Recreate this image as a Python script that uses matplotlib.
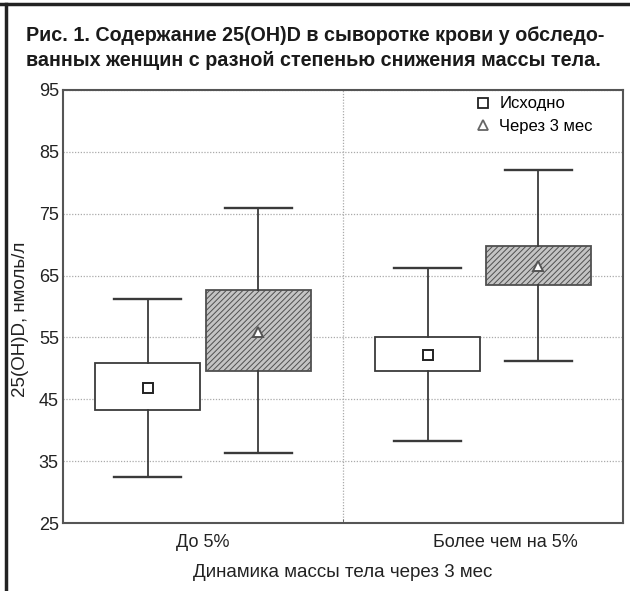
import matplotlib
matplotlib.use("Agg")
import matplotlib.pyplot as plt
from matplotlib.lines import Line2D

plt.rcParams['font.family'] = ['Liberation Sans', 'DejaVu Sans']
plt.rcParams['hatch.linewidth'] = 0.7

groups = ["До 5%", "Более чем на 5%"]
series = ["Исходно", "Через 3 мес"]

# mean, box low/high, whisker low/high
mean_base = [46.8, 52.2]
box_lo_base = [43.2, 49.6]
box_hi_base = [50.8, 55.0]
whis_lo_base = [32.4, 38.2]
whis_hi_base = [61.2, 66.3]

mean_3m = [55.9, 66.5]
box_lo_3m = [49.6, 63.5]
box_hi_3m = [62.6, 69.8]
whis_lo_3m = [36.3, 51.2]
whis_hi_3m = [76.0, 82.0]

yticks = [25, 35, 45, 55, 65, 75, 85, 95]

title = ("Рис. 1. Содержание 25(OH)D в сыворотке крови у обследо-\n"
         "ванных женщин с разной степенью снижения массы тела.")


def make_stats(mean, lo, hi, wlo, whi):
    return [dict(med=m, mean=m, q1=a, q3=b, whislo=c, whishi=d, fliers=[])
            for m, a, b, c, d in zip(mean, lo, hi, wlo, whi)]


fig = plt.figure(figsize=(6.3, 5.91), dpi=100)
ax = fig.add_axes([63/630, 1-523/591, 560/630, 433/591])

edge = '#3a3a3a'
off = 0.198
pos0 = [i - off for i in range(len(groups))]
pos1 = [i + off for i in range(len(groups))]

common = dict(widths=0.375, capwidths=0.24, patch_artist=True, showmeans=True,
              showfliers=False,
              whiskerprops=dict(color=edge, lw=1.3),
              capprops=dict(color=edge, lw=1.7),
              medianprops=dict(visible=False))

ax.bxp(make_stats(mean_base, box_lo_base, box_hi_base, whis_lo_base, whis_hi_base),
       positions=pos0,
       boxprops=dict(facecolor='white', edgecolor=edge, lw=1.3),
       meanprops=dict(marker='s', mfc='white', mec='#222', ms=7, mew=1.4),
       **common)
r = ax.bxp(make_stats(mean_3m, box_lo_3m, box_hi_3m, whis_lo_3m, whis_hi_3m),
           positions=pos1,
           boxprops=dict(facecolor='#c4c4c4', edgecolor='#505050', lw=1.3),
           meanprops=dict(marker='^', mfc='white', mec='#555555', ms=7, mew=1.4),
           **common)
for b in r['boxes']:
    b.set_hatch('//////')

ax.set_xlim(-0.5, 1.5)
ax.set_ylim(25, 95)
ax.set_yticks(yticks)
ax.set_xticks([0.5], minor=True)
ax.set_xticks([])
ax.set_axisbelow(True)
ax.yaxis.grid(True, ls=(0, (1, 1.3)), color='#aaaaaa', lw=0.9)
ax.xaxis.grid(True, which='minor', ls=(0, (1, 1.3)), color='#aaaaaa', lw=0.9)
ax.tick_params(axis='y', length=0, pad=3, labelsize=13, colors='#222')
ax.tick_params(axis='x', which='minor', length=3, direction='in', color='#555')
for s in ax.spines.values():
    s.set_color('#555555')
    s.set_linewidth(1.5)

label_dx = [0, 16]
for i, g in enumerate(groups):
    ax.annotate(g, xy=(i, 0), xycoords=ax.get_xaxis_transform(),
                xytext=(label_dx[i], -8), textcoords='offset points',
                ha='center', va='top', fontsize=13, color='#222')

ax.set_xlabel("Динамика массы тела через 3 мес", fontsize=13.5, color='#222')
ax.xaxis.set_label_coords(0.5, -0.095)
ax.set_ylabel("25(OH)D, нмоль/л", fontsize=13.5, color='#222')
ax.yaxis.set_label_coords(-0.061, 0.47)

handles = [Line2D([], [], ls='none', marker='s', mfc='white', mec='#222', ms=7, mew=1.3),
           Line2D([], [], ls='none', marker='^', mfc='white', mec='#666', ms=7, mew=1.3)]
ax.legend(handles, series, loc='upper left', bbox_to_anchor=(0.705, 1.02),
          frameon=False, fontsize=12, handletextpad=0.4, labelspacing=0.45,
          handlelength=1.2)

fig.text(26/630, 1-26/591, title, ha='left', va='top', fontsize=14.2,
         fontweight='bold', color='#1a1a1a', linespacing=1.4)

fig.add_artist(Line2D([0, 1], [1-4/591, 1-4/591], transform=fig.transFigure,
                      color='#222', lw=2.5))
fig.add_artist(Line2D([6/630, 6/630], [0, 1-4/591], transform=fig.transFigure,
                      color='#222', lw=2.5))

fig.savefig("out.png", dpi=100)
